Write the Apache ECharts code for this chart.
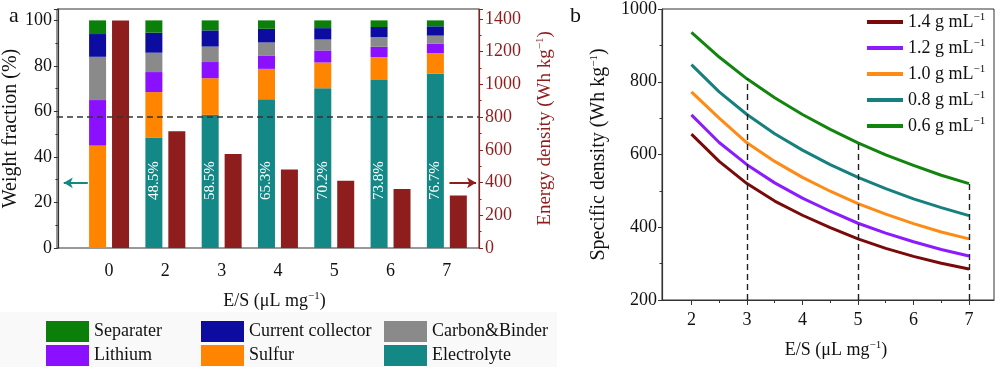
<!DOCTYPE html>
<html>
<head>
<meta charset="utf-8">
<script src="https://cdn.jsdelivr.net/npm/echarts@6/dist/echarts.min.js"></script>
<style>
html,body{margin:0;padding:0;background:#fff;}
#c{width:1000px;height:367px;}
</style>
</head>
<body>
<div id="c"></div>
<script>
// ---- Panel a data ----
const categories = ['0', '2', '3', '4', '5', '6', '7'];
const electrolyte = [0, 48.5, 58.5, 65.3, 70.2, 73.8, 76.7];
const sulfur = [45, 20.0, 16.1, 13.4, 11.3, 10.1, 8.9];
const lithium = [20, 8.8, 7.1, 5.9, 5.3, 4.5, 4.1];
const carbon = [19, 8.5, 6.8, 5.7, 4.8, 4.3, 3.6];
const collector = [10, 8.8, 7.1, 6.0, 5.0, 4.4, 4.1];
const separater = [6, 5.4, 4.4, 3.7, 3.4, 2.9, 2.6];
const energyDensity = [1390, 713, 574, 479, 411, 360, 320];
const weightTicks = [0, 20, 40, 60, 80, 100];
const energyTicks = [0, 200, 400, 600, 800, 1000, 1200, 1400];
const energyRef = 800;
const arrowLevel = 398;

// ---- Panel b data ----
const esValues = [2, 2.5, 3, 3.5, 4, 4.5, 5, 5.5, 6, 6.5, 7];
const d14 = [656, 581, 520, 472, 433, 399, 368, 342, 320, 301, 285];
const d12 = [709, 633, 572, 522, 480, 444, 411, 384, 360, 339, 321];
const d10 = [772, 700, 632, 581, 537, 499, 465, 436, 410, 387, 368];
const d08 = [847, 772, 710, 657, 612, 572, 537, 506, 478, 454, 432];
const d06 = [936, 868, 808, 756, 710, 669, 632, 599, 570, 543, 520];
const densityLabels = ['1.4', '1.2', '1.0', '0.8', '0.6'];
const dashedAt = [3, 5, 7];
const esTicks = [2, 3, 4, 5, 6, 7];
const esMinorTicks = [2.5, 3.5, 4.5, 5.5, 6.5];

const FONT = 'Liberation Serif';
const AX = '#333';
const RED = '#8e1e1e';
const C = {
  sep: '#0a7f0a', cc: '#0c0ca0', carbon: '#8a8a8a', li: '#8a10ff', s: '#ff8400', el: '#138886',
  l14: '#7a0a0a', l12: '#8b1cff', l10: '#ff8a14', l08: '#16807f', l06: '#12850f'
};
const supRich = { sup: { fontSize: 11, padding: [0, 0, 9, 0], fontFamily: FONT } };

const chart = echarts.init(document.getElementById('c'), null, { renderer: 'canvas' });

function xyb(arr) { return arr.map((v, i) => [esValues[i], v]); }

const stackDefs = [
  ['Electrolyte', electrolyte, C.el],
  ['Sulfur', sulfur, C.s],
  ['Lithium', lithium, C.li],
  ['Carbon&Binder', carbon, C.carbon],
  ['Current collector', collector, C.cc],
  ['Separater', separater, C.sep]
];

const series = [];
stackDefs.forEach((d, k) => {
  const s = {
    name: d[0], type: 'bar', stack: 'w', xAxisIndex: 0, yAxisIndex: 0,
    data: d[1], barWidth: 17, barGap: '35%',
    itemStyle: { color: d[2] }, emphasis: { disabled: true }
  };
  if (k === 0) {
    s.label = {
      show: true, position: 'insideBottom', rotate: 90, distance: 48,
      align: 'left', verticalAlign: 'middle', color: '#fff',
      fontSize: 15, fontFamily: FONT,
      formatter: p => p.value ? Number(p.value).toFixed(1) + '%' : ''
    };
  }
  series.push(s);
});
series.push({
  name: 'Energy density', type: 'bar', xAxisIndex: 0, yAxisIndex: 1,
  data: energyDensity, barWidth: 17, barGap: '35%',
  itemStyle: { color: RED }, emphasis: { disabled: true }
});
// reference line + arrows on the frame axes (span the full panel a frame)
series.push({
  name: 'ref', type: 'line', xAxisIndex: 3, yAxisIndex: 3,
  data: [[0, energyRef], [1, energyRef]], symbol: 'none', silent: true,
  lineStyle: { color: '#333', type: [6, 4], width: 1.4 }, z: 4,
  markLine: {
    silent: true, animation: false, symbol: 'none', label: { show: false },
    data: [
      [
        { coord: [0.073, arrowLevel], symbol: 'none', lineStyle: { color: C.el, type: 'solid', width: 2 } },
        { coord: [0.016, arrowLevel], symbol: 'arrow', symbolSize: [8, 9] }
      ],
      [
        { coord: [0.93, arrowLevel], symbol: 'none', lineStyle: { color: RED, type: 'solid', width: 2 } },
        { coord: [0.993, arrowLevel], symbol: 'arrow', symbolSize: [8, 9] }
      ]
    ]
  }
});

const lineDefs = [
  [densityLabels[0], d14, C.l14],
  [densityLabels[1], d12, C.l12],
  [densityLabels[2], d10, C.l10],
  [densityLabels[3], d08, C.l08],
  [densityLabels[4], d06, C.l06]
];
lineDefs.forEach((d, k) => {
  const s = {
    name: d[0] + ' g mL⁻¹', type: 'line', xAxisIndex: 1, yAxisIndex: 2,
    data: xyb(d[1]), symbol: 'none', smooth: false,
    lineStyle: { color: d[2], width: 3 }, itemStyle: { color: d[2] },
    emphasis: { disabled: true }, z: 3
  };
  if (k === 4) {
    s.markLine = {
      silent: true, animation: false, symbol: 'none', label: { show: false },
      lineStyle: { color: '#222', type: [6, 4], width: 1.4 },
      data: dashedAt.map(x => [
        { coord: [x, 200] },
        { coord: [x, d[1][esValues.indexOf(x)]] }
      ])
    };
  }
  series.push(s);
});

const tickLabel = { fontFamily: FONT, fontSize: 18, color: '#111' };
const leftLegendText = { fontFamily: FONT, fontSize: 18, color: '#111' };
function oneLegend(name, left, top) {
  return { orient: 'horizontal', left: left, top: top, padding: 0, itemWidth: 43, itemHeight: 21, icon: 'rect',
    textStyle: leftLegendText, data: [name], selectedMode: false };
}

const option = {
  animation: false,
  backgroundColor: '#fff',
  graphic: [
    { type: 'rect', left: 0, top: 312, shape: { width: 557, height: 55 }, style: { fill: '#f9f9f9' }, z: -10 }
  ],
  title: [
    { text: 'a', left: 4, top: 0, textStyle: { fontFamily: FONT, fontSize: 22, fontWeight: 'normal', color: '#111' } },
    { text: 'b', left: 565, top: 0, textStyle: { fontFamily: FONT, fontSize: 22, fontWeight: 'normal', color: '#111' } }
  ],
  legend: [
    oneLegend('Separater', 46, 321),
    oneLegend('Lithium', 46, 345),
    oneLegend('Current collector', 201, 321),
    oneLegend('Sulfur', 201, 345),
    oneLegend('Carbon&Binder', 384, 321),
    oneLegend('Electrolyte', 384, 345),
    { orient: 'vertical', left: 867, top: 12, padding: 0, itemWidth: 36, itemHeight: 4, itemGap: 6,
      icon: 'rect', selectedMode: false,
      data: lineDefs.map(d => d[0] + ' g mL⁻¹'),
      textStyle: { fontFamily: FONT, fontSize: 18, color: '#111', lineHeight: 20, rich: supRich },
      formatter: n => n.replace('⁻¹', '{sup|−1}') }
  ],
  grid: [
    { left: 80, right: 525, top: 9, bottom: 119 },
    { left: 662, right: 6, top: 7, bottom: 67, show: true, borderColor: AX, borderWidth: 1, backgroundColor: 'transparent' },
    { left: 57, right: 521, top: 9, bottom: 119, show: true, borderColor: AX, borderWidth: 1, backgroundColor: 'transparent' }
  ],
  xAxis: [
    {
      gridIndex: 0, type: 'category', data: categories,
      axisLine: { show: false },
      axisTick: { alignWithLabel: true, length: 4, lineStyle: { color: AX } },
      axisLabel: { margin: 14, ...tickLabel },
      splitLine: { show: false },
      name: 'E/S (μL mg{sup|−1})', nameLocation: 'middle', nameGap: 43,
      nameTextStyle: { fontFamily: FONT, fontSize: 18, color: '#111', padding: [0, 7, 0, 0], rich: supRich }
    },
    {
      gridIndex: 1, type: 'value', min: 1.47, max: 7.45,
      axisLine: { onZero: false, lineStyle: { color: AX, width: 1.2 } },
      axisTick: { customValues: esTicks, length: 5, lineStyle: { color: AX } },
      axisLabel: { customValues: esTicks, margin: 11, ...tickLabel },
      splitLine: { show: false },
      name: 'E/S (μL mg{sup|−1})', nameLocation: 'middle', nameGap: 40,
      nameTextStyle: { fontFamily: FONT, fontSize: 18, color: '#111', padding: [0, 0, 0, 16], rich: supRich }
    },
    {
      gridIndex: 1, type: 'value', min: 1.47, max: 7.45, position: 'bottom',
      axisLine: { show: false },
      axisTick: { customValues: esMinorTicks, length: 3, lineStyle: { color: AX } },
      axisLabel: { show: false }, splitLine: { show: false }
    },
    {
      gridIndex: 2, type: 'value', min: 0, max: 1, show: false
    }
  ],
  yAxis: [
    {
      gridIndex: 0, type: 'value', min: 0, max: 105, interval: 20, offset: 23,
      axisLine: { show: true, onZero: false, lineStyle: { color: AX, width: 1.2 } },
      axisTick: { show: true, length: 4, lineStyle: { color: AX } },
      minorTick: { show: true, splitNumber: 2, length: 2.5, lineStyle: { color: AX } },
      axisLabel: { showMaxLabel: false, margin: 6, ...tickLabel, formatter: v => (weightTicks.includes(v) ? String(v) : '') },
      splitLine: { show: false },
      name: 'Weight fraction (%)', nameLocation: 'middle', nameGap: 35,
      nameTextStyle: { fontFamily: FONT, fontSize: 20, color: '#111' }
    },
    {
      gridIndex: 0, type: 'value', min: 0, max: 1460, interval: 200, position: 'right', offset: 4,
      axisLine: { show: true, onZero: false, lineStyle: { color: RED, width: 1.2 } },
      axisTick: { show: true, length: 4, lineStyle: { color: RED } },
      minorTick: { show: true, splitNumber: 2, length: 2.5, lineStyle: { color: RED } },
      axisLabel: { showMaxLabel: false, margin: 6, ...tickLabel, color: RED, formatter: v => (energyTicks.includes(v) ? String(v) : '') },
      splitLine: { show: false },
      name: 'Energy density (Wh kg{sup|−1})', nameLocation: 'middle', nameGap: 56, nameRotate: 90,
      nameTextStyle: { fontFamily: FONT, fontSize: 19, color: RED, rich: { sup: { fontSize: 11, padding: [0, 0, 9, 0], fontFamily: FONT, color: RED } } }
    },
    {
      gridIndex: 1, type: 'value', min: 200, max: 1000, interval: 200,
      axisLine: { show: true, onZero: false, lineStyle: { color: AX, width: 1.2 } },
      axisTick: { show: true, length: 4, lineStyle: { color: AX } },
      minorTick: { show: true, splitNumber: 2, length: 2.5, lineStyle: { color: AX } },
      axisLabel: { margin: 5, ...tickLabel, formatter: v => String(v) },
      splitLine: { show: false },
      name: 'Specific density (Wh kg{sup|−1})', nameLocation: 'middle', nameGap: 53,
      nameTextStyle: { fontFamily: FONT, fontSize: 20, color: '#111', rich: supRich }
    },
    {
      gridIndex: 2, type: 'value', min: 0, max: 1460, show: false
    }
  ],
  series: series
};
chart.setOption(option);
</script>
</body>
</html>
